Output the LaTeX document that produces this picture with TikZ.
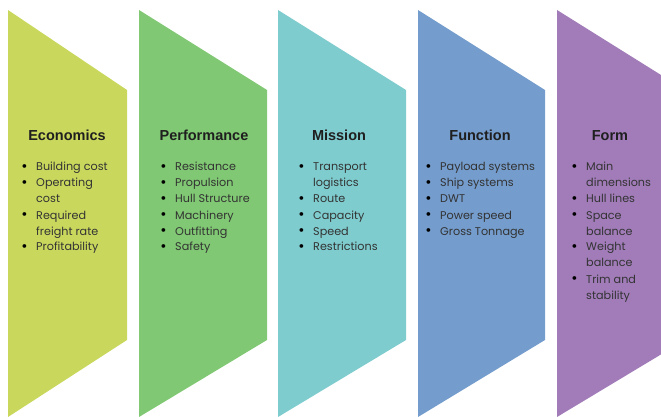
\documentclass[tikz,border=0pt]{standalone}
\usepackage{fontspec}
\setmainfont{Poppins}
\newfontfamily\headfont{Liberation Sans}
\definecolor{econgreen}{RGB}{201,216,93}
\definecolor{perfgreen}{RGB}{128,200,115}
\definecolor{missteal}{RGB}{127,204,207}
\definecolor{funcblue}{RGB}{116,156,204}
\definecolor{formpurple}{RGB}{161,124,185}
\newcommand{\itm}{\llap{\textcolor{black}{\raisebox{-0.3pt}{\scalebox{1.35}{\textbullet}}}\hspace{8.5pt}}}
\newcommand{\itemlist}[1]{\begin{tabular}[t]{@{}l@{}}#1\end{tabular}}
\usetikzlibrary{positioning}

\begin{document}
\begin{tikzpicture}[x=1pt, y=-1pt,
    heading/.style={font=\headfont\bfseries\fontsize{14.5}{16}\selectfont, text=black!88,
      inner sep=0pt, anchor=base},
    points/.style={font=\fontsize{11.2}{16}\selectfont, text=black!80,
      inner sep=0pt, anchor=base west}
  ]
    \useasboundingbox (0,0) rectangle (661,417);
    \clip (0,0) rectangle (661,417);

    % chevron panels
    \fill[econgreen]  (8,10)   -- (127,90) -- (127,340) -- (8,417)   -- cycle;
    \fill[perfgreen]  (139,10) -- (267,90) -- (267,340) -- (139,417) -- cycle;
    \fill[missteal]   (278,10) -- (406,90) -- (406,340) -- (278,417) -- cycle;
    \fill[funcblue]   (418,10) -- (545,90) -- (545,340) -- (418,417) -- cycle;
    \fill[formpurple] (557,10) -- (685,90) -- (685,340) -- (557,417) -- cycle;

    % headings
    \node[heading] (econ) at (67,140)  {Economics};
    \node[heading] (perf) at (204,140) {Performance};
    \node[heading] (miss) at (339,140) {Mission};
    \node[heading] (func) at (480,140) {Function};
    \node[heading] (form) at (610,140) {Form};

    % item lists
    \node[points] (econlist) at (36,171) {\itemlist{\itm Building cost\\ \itm Operating\\ cost\\
      \itm Required\\ freight rate\\ \itm Profitability}};
    \node[points] (perflist) at (175,171) {\itemlist{\itm Resistance\\ \itm Propulsion\\
      \itm Hull Structure\\ \itm Machinery\\ \itm Outfitting\\ \itm Safety}};
    \node[points] (misslist) at (313,171) {\itemlist{\itm Transport\\ logistics\\ \itm Route\\
      \itm Capacity\\ \itm Speed\\ \itm Restrictions}};
    \node[points] (funclist) at (440,171) {\itemlist{\itm Payload systems\\ \itm Ship systems\\
      \itm DWT\\ \itm Power speed\\ \itm Gross Tonnage}};
    \node[points] (formlist) at (586,171) {\itemlist{\itm Main\\ dimensions\\ \itm Hull lines\\
      \itm Space\\ balance\\ \itm Weight\\ balance\\ \itm Trim and\\ stability}};
  \end{tikzpicture}
\end{document}
